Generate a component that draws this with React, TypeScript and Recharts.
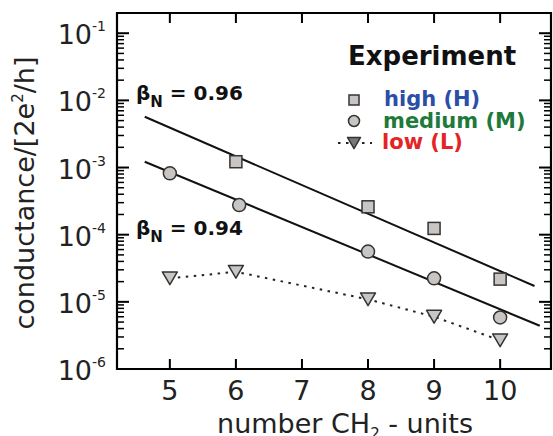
import React from 'react';
import { ComposedChart, XAxis, YAxis, Line, Scatter } from 'recharts';

// number of CH2 units on the x axis
const X_TICKS = [5, 6, 7, 8, 9, 10];
const DECADES = [1e-6, 1e-5, 1e-4, 1e-3, 1e-2, 1e-1];
const DECADE_EXP = ['-6', '-5', '-4', '-3', '-2', '-1'];
const MINOR_STEPS = [2, 3, 4, 5, 6, 7, 8, 9];

const highData = [
  { x: 6, y: 1.22e-3 },
  { x: 8, y: 2.6e-4 },
  { x: 9, y: 1.24e-4 },
  { x: 10, y: 2.18e-5 },
];
const mediumData = [
  { x: 5, y: 8.2e-4 },
  { x: 6.05, y: 2.76e-4 },
  { x: 8, y: 5.6e-5 },
  { x: 9, y: 2.24e-5 },
  { x: 10, y: 5.85e-6 },
];
const lowData = [
  { x: 5, y: 2.24e-5 },
  { x: 6, y: 2.8e-5 },
  { x: 8, y: 1.09e-5 },
  { x: 9, y: 6.0e-6 },
  { x: 10, y: 2.67e-6 },
];
// fitted exponential decays (beta_N = 0.96 and 0.94)
const fitHigh = [
  { x: 4.62, y: 5.7e-3 },
  { x: 10.52, y: 1.72e-5 },
];
const fitMedium = [
  { x: 4.62, y: 1.22e-3 },
  { x: 10.6, y: 4.4e-6 },
];

const X_MIN = 4.2;
const X_MAX = 10.77;
const Y_MIN = 1e-6;
const Y_TOP = 0.2;

const Y_TICKS = DECADES.flatMap((d) => [d, ...MINOR_STEPS.map((m) => m * d)]).filter(
  (v) => v < Y_TOP * 0.99
);

// plot box set by the chart margins / axis sizes below
const PLOT = { left: 117, top: 13, right: 551, bottom: 369 };

const FONT = '"DejaVu Sans", sans-serif';

const decadeIndex = (v: number) => DECADES.findIndex((d) => Math.abs(d - v) / d < 1e-6);

// inward tick marks drawn inside the axis tick renderers
const LeftTick = (props: any) => {
  const { x, y, payload } = props;
  const idx = decadeIndex(payload.value);
  const major = idx >= 0;
  const len = major ? 12 : 7;
  const w = PLOT.right - PLOT.left;
  return (
    <g>
      <path d={`M${x},${y}h${len}`} stroke="#000" strokeWidth={major ? 2 : 1.5} fill="none" />
      <path d={`M${x + w},${y}h${-len}`} stroke="#000" strokeWidth={major ? 2 : 1.5} fill="none" />
      {major && (
        <text x={x - 11} y={y + 11} textAnchor="end" fontSize={27} fill="#222" fontFamily={FONT}>
          10
          <tspan dy={-13} fontSize={14}>
            {DECADE_EXP[idx]}
          </tspan>
        </text>
      )}
    </g>
  );
};

const BottomTick = (props: any) => {
  const { x, y, payload } = props;
  const h = PLOT.bottom - PLOT.top;
  return (
    <g>
      <path d={`M${x},${y}v-10`} stroke="#000" strokeWidth={2} fill="none" />
      <path d={`M${x},${y - h}v10`} stroke="#000" strokeWidth={2} fill="none" />
      <text x={x} y={y + 31} textAnchor="middle" fontSize={27} fill="#222" fontFamily={FONT}>
        {payload.value}
      </text>
    </g>
  );
};

const squareShape = (cx: number, cy: number, size = 12, fill = '#c9c5c2') => (
  <rect x={cx - size / 2} y={cy - size / 2} width={size} height={size} fill={fill} stroke="#333" strokeWidth={1.5} />
);
const circleShape = (cx: number, cy: number, size = 13, fill = '#c9c5c2') => (
  <circle cx={cx} cy={cy} r={size / 2} fill={fill} stroke="#333" strokeWidth={1.5} />
);
const triangleShape = (cx: number, cy: number, size = 15, fill = '#c9c5c2') => {
  const h = size * 0.85;
  return (
    <polygon
      points={`${cx - size / 2},${cy - h / 2} ${cx + size / 2},${cy - h / 2} ${cx},${cy + h / 2}`}
      fill={fill}
      stroke="#333"
      strokeWidth={1.5}
      strokeLinejoin="round"
    />
  );
};

// frame, annotations, legend and axis titles
function Overlay() {
  return (
    <svg
      width={553}
      height={436}
      style={{ position: 'absolute', left: 0, top: 0, pointerEvents: 'none' }}
      fontFamily={FONT}
    >
      <path
        d={`M${PLOT.left},${PLOT.top}H${PLOT.right}V${PLOT.bottom}H${PLOT.left}Z`}
        fill="none"
        stroke="#000"
        strokeWidth={2.2}
      />

      <text x={136} y={100} fontWeight="bold" fontSize={20} fill="#111">
        β<tspan dy={7} fontSize={15}>N</tspan>
        <tspan dy={-7}> = 0.96</tspan>
      </text>
      <text x={136} y={235} fontWeight="bold" fontSize={20} fill="#111">
        β<tspan dy={7} fontSize={15}>N</tspan>
        <tspan dy={-7}> = 0.94</tspan>
      </text>

      <text x={348} y={65} fontWeight="bold" fontSize={26} fill="#111">
        Experiment
      </text>
      {squareShape(354, 100, 10)}
      <text x={384} y={106} fontWeight="bold" fontSize={21} fill="#2b4ea6">
        high (H)
      </text>
      {circleShape(354, 121, 11)}
      <text x={383} y={128} fontWeight="bold" fontSize={21} fill="#1d7a3b">
        medium (M)
      </text>
      <line x1={338} x2={372} y1={143} y2={143} stroke="#222" strokeWidth={2} strokeDasharray="2.5 5.5" />
      {triangleShape(354, 143, 13, '#7a7776')}
      <text x={382} y={149} fontWeight="bold" fontSize={21} fill="#e42424">
        low (L)
      </text>

      <text transform="translate(34,193) rotate(-90)" textAnchor="middle" fontSize={27} fill="#222">
        conductance/[2e<tspan dy={-11} fontSize={15}>2</tspan>
        <tspan dy={11}>/h]</tspan>
      </text>
      <text x={345} y={433} textAnchor="middle" fontSize={27} fill="#222">
        number CH<tspan dy={6} fontSize={15}>2</tspan>
        <tspan dy={-6}> - units</tspan>
      </text>
    </svg>
  );
}

export default function App() {
  return (
    <div style={{ position: 'absolute', left: 0, top: 0, width: 553, height: 436, background: '#fff' }}>
      <ComposedChart
        width={553}
        height={436}
        margin={{ top: PLOT.top, right: 553 - PLOT.right, bottom: 0, left: 0 }}
      >
        <XAxis
          dataKey="x"
          type="number"
          domain={[X_MIN, X_MAX + ((553 - PLOT.right) * 0) / 1]}
          ticks={X_TICKS}
          interval={0}
          height={436 - PLOT.bottom}
          tickSize={0}
          tickMargin={0}
          tickLine={false}
          axisLine={false}
          tick={<BottomTick />}
        />
        <YAxis
          dataKey="y"
          scale="log"
          type="number"
          domain={[Y_MIN, Y_TOP]}
          ticks={Y_TICKS}
          interval={0}
          width={PLOT.left}
          tickSize={0}
          tickMargin={0}
          tickLine={false}
          axisLine={false}
          tick={<LeftTick />}
        />

        <Line data={fitHigh} dataKey="y" stroke="#111" strokeWidth={2} dot={false} isAnimationActive={false} />
        <Line data={fitMedium} dataKey="y" stroke="#111" strokeWidth={2} dot={false} isAnimationActive={false} />
        <Line
          data={lowData}
          dataKey="y"
          stroke="#222"
          strokeWidth={2}
          strokeDasharray="2.5 5.5"
          dot={false}
          isAnimationActive={false}
        />
        <Scatter data={highData} dataKey="y" shape={(p: any) => squareShape(p.cx, p.cy)} isAnimationActive={false} />
        <Scatter data={mediumData} dataKey="y" shape={(p: any) => circleShape(p.cx, p.cy)} isAnimationActive={false} />
        <Scatter data={lowData} dataKey="y" shape={(p: any) => triangleShape(p.cx, p.cy)} isAnimationActive={false} />
      </ComposedChart>
      <Overlay />
    </div>
  );
}
